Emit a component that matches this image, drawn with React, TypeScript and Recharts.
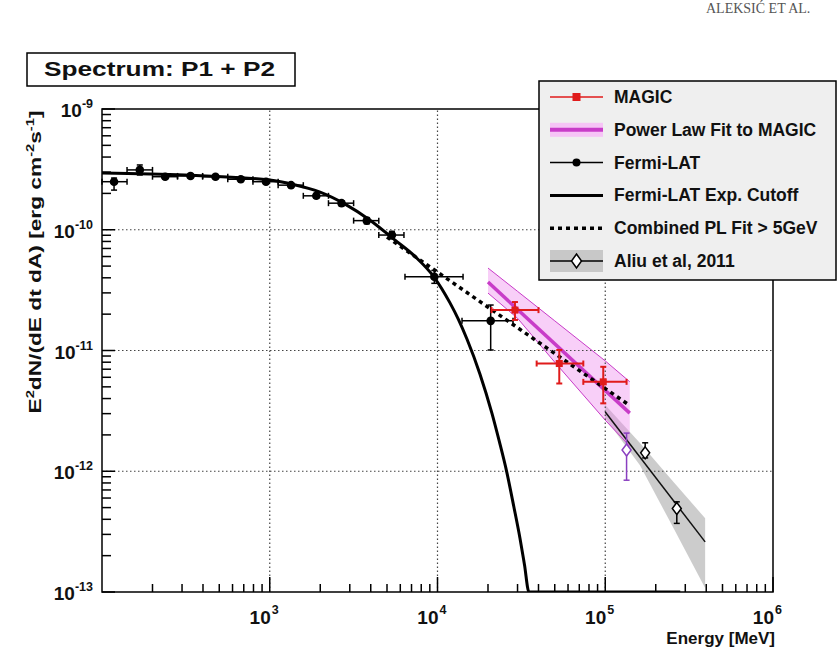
import React from 'react';
import {
  ComposedChart,
  XAxis,
  YAxis,
  Line,
  Area,
  Scatter,
  ErrorBar,
  ReferenceLine,
  ReferenceArea,
} from 'recharts';

const FONT = '"Liberation Sans", Arial, Helvetica, sans-serif';
const MAGENTA = '#c83cc8';
const RED = '#e01b1b';

// ---------- Fermi-LAT spectral points (MeV, erg cm^-2 s^-1) ----------
const fermiEnergy = [118, 168, 238, 337, 475, 672, 950, 1340, 1895, 2680, 3790, 5350, 9570, 20750];
const fermiEnergyLow = [100, 141, 200, 282, 398, 562, 794, 1122, 1585, 2239, 3162, 4467, 6400, 14000];
const fermiEnergyHigh = [141, 200, 282, 398, 562, 794, 1122, 1585, 2239, 3162, 4467, 6310, 14200, 28200];
const fermiFlux = [2.5e-10, 3.13e-10, 2.75e-10, 2.79e-10, 2.75e-10, 2.62e-10, 2.5e-10, 2.34e-10, 1.91e-10, 1.66e-10, 1.19e-10, 9.04e-11, 4.08e-11, 1.76e-11];
const fermiFluxLow = [2.13e-10, 2.84e-10, 2.64e-10, 2.69e-10, 2.66e-10, 2.53e-10, 2.42e-10, 2.26e-10, 1.83e-10, 1.58e-10, 1.12e-10, 8.4e-11, 3.6e-11, 1.01e-11];
const fermiFluxHigh = [2.68e-10, 3.44e-10, 2.86e-10, 2.89e-10, 2.84e-10, 2.71e-10, 2.58e-10, 2.42e-10, 1.99e-10, 1.74e-10, 1.26e-10, 9.7e-11, 4.6e-11, 2.38e-11];

// ---------- Fermi-LAT exponential cutoff model ----------
const cutoffEnergy = [100, 312, 1000, 1400, 1995, 2812, 3963, 5585, 7350, 9530, 11870, 13300, 15000, 17900, 21100, 23300, 25900, 28500, 31000, 33000, 35100, 280000];
const cutoffFlux = [2.95e-10, 2.84e-10, 2.58e-10, 2.36e-10, 2.05e-10, 1.63e-10, 1.2e-10, 8.2e-11, 6.0e-11, 4.06e-11, 2.48e-11, 1.82e-11, 1.24e-11, 6.4e-12, 3.03e-12, 1.79e-12, 9.8e-13, 5.1e-13, 2.8e-13, 1.68e-13, 1.0e-13, 1.0e-13];

// ---------- Combined power law above 5 GeV ----------
const combinedEnergy = [5000, 140000];
const combinedFlux = [8.7e-11, 3.5e-12];

// ---------- MAGIC points ----------
const magicEnergy = [28960, 53200, 97300];
const magicEnergyLow = [21000, 39000, 74000];
const magicEnergyHigh = [40000, 74000, 134000];
const magicFlux = [2.16e-11, 7.8e-12, 5.5e-12];
const magicFluxLow = [1.79e-11, 5.33e-12, 3.65e-12];
const magicFluxHigh = [2.52e-11, 1.01e-11, 7.33e-12];

// ---------- Power law fit to MAGIC and its error band ----------
const magicFitEnergy = [20000, 140000];
const magicFitFlux = [3.69e-11, 3.03e-12];
const magicBandEnergy = [20000, 30000, 50000, 100000, 140000];
const magicBandLow = [2.99e-11, 1.85e-11, 8.0e-12, 2.65e-12, 1.61e-12];
const magicBandHigh = [4.82e-11, 3.09e-11, 1.76e-11, 8.2e-12, 5.51e-12];

// ---------- Aliu et al. 2011 ----------
const aliuEnergy = [134000, 173000, 267000];
const aliuFlux = [1.5e-12, 1.42e-12, 4.92e-13];
const aliuFluxLow = [8.43e-13, 1.29e-12, 3.7e-13];
const aliuFluxHigh = [2.07e-12, 1.72e-12, 5.58e-13];
const aliuFitEnergy = [100000, 394000];
const aliuFitFlux = [3.1e-12, 2.6e-13];
const aliuBandEnergy = [100000, 161000, 250000, 394000];
const aliuBandLow = [2.75e-12, 1.12e-12, 3.57e-13, 1.08e-13];
const aliuBandHigh = [3.53e-12, 1.71e-12, 8.43e-13, 4.08e-13];

// ---------- Axes ----------
const xDecades = [1e2, 1e3, 1e4, 1e5];
const yDecades = [1e-13, 1e-12, 1e-11, 1e-10];
const minorSteps = [2, 3, 4, 5, 6, 7, 8, 9];
const xMajorTicks = [1e3, 1e4, 1e5, 1e6];
const xTickExponents = ['3', '4', '5', '6'];
const yMajorTicks = [1e-13, 1e-12, 1e-11, 1e-10, 1e-9];
const yTickExponents = ['-13', '-12', '-11', '-10', '-9'];
const xGrid = [1e3, 1e4, 1e5];
const yGrid = [1e-10, 1e-11, 1e-12];

const xMinorTicks = xDecades.flatMap((d) => minorSteps.map((m) => m * d));
const yMinorTicks = yDecades.flatMap((d) => minorSteps.map((m) => m * d));
const xTicks = [...xMinorTicks, ...xMajorTicks].sort((a, b) => a - b);
const yTicks = [...yMinorTicks, ...yMajorTicks].sort((a, b) => a - b);

const legendLabels = [
  'MAGIC',
  'Power Law Fit to MAGIC',
  'Fermi-LAT',
  'Fermi-LAT Exp. Cutoff',
  'Combined PL Fit > 5GeV',
  'Aliu et al, 2011',
];

// ---------- Tables ----------
const pointRows = (E: number[], F: number[], fLo: number[], fHi: number[], eLo?: number[], eHi?: number[]) =>
  E.map((e, i) => ({
    e,
    f: F[i],
    ey: [F[i] - fLo[i], fHi[i] - F[i]],
    ex: eLo && eHi ? [e - eLo[i], eHi[i] - e] : [0, 0],
  }));
const curveRows = (E: number[], F: number[]) => E.map((e, i) => ({ e, f: F[i] }));
const bandRows = (E: number[], lo: number[], hi: number[]) => E.map((e, i) => ({ e, band: [lo[i], hi[i]] }));

const fermiRows = pointRows(fermiEnergy, fermiFlux, fermiFluxLow, fermiFluxHigh, fermiEnergyLow, fermiEnergyHigh);
const magicRows = pointRows(magicEnergy, magicFlux, magicFluxLow, magicFluxHigh, magicEnergyLow, magicEnergyHigh);
const aliuRows = pointRows(aliuEnergy, aliuFlux, aliuFluxLow, aliuFluxHigh);
const cutoffRows = curveRows(cutoffEnergy, cutoffFlux);
const combinedRows = curveRows(combinedEnergy, combinedFlux);
const magicFitRows = curveRows(magicFitEnergy, magicFitFlux);
const aliuFitRows = curveRows(aliuFitEnergy, aliuFitFlux);
const magicBandRows = bandRows(magicBandEnergy, magicBandLow, magicBandHigh);
const aliuBandRows = bandRows(aliuBandEnergy, aliuBandLow, aliuBandHigh);

// ---------- Tick renderers (ticks point into the frame) ----------
const XTick = (props: any) => {
  const { x, y, payload } = props;
  const idx = xMajorTicks.indexOf(payload.value);
  const major = idx >= 0;
  return (
    <g>
      <line x1={x} x2={x} y1={y} y2={y - (major ? 15 : 8)} stroke="#000" strokeWidth={1.5} />
      {major && (
        <g fontFamily={FONT} fontWeight="bold" fill="#111">
          <text x={x + 1} y={y + 32} fontSize={19} textAnchor="end">10</text>
          <text x={x + 2} y={y + 22} fontSize={12.5} textAnchor="start">{xTickExponents[idx]}</text>
        </g>
      )}
    </g>
  );
};

const YTick = (props: any) => {
  const { x, y, payload } = props;
  const idx = yMajorTicks.indexOf(payload.value);
  const major = idx >= 0;
  return (
    <g>
      <line x1={x} x2={x + (major ? 13 : 9)} y1={y} y2={y} stroke="#000" strokeWidth={1.5} />
      {major && (
        <text x={x - 9} y={y + 8} fontFamily={FONT} fontWeight="bold" fill="#111" textAnchor="end" fontSize={19}>
          10
          <tspan dy={-9} fontSize={12.5}>{yTickExponents[idx]}</tspan>
        </text>
      )}
    </g>
  );
};

const Dot = (p: any) => <circle cx={p.cx} cy={p.cy} r={4.3} fill="#000" />;
const Square = (p: any) => <rect x={p.cx - 3.5} y={p.cy - 3.5} width={7} height={7} fill={RED} />;
const Diamond = (color: string) => (p: any) => (
  <polygon
    points={`${p.cx},${p.cy - 6} ${p.cx + 4.5},${p.cy} ${p.cx},${p.cy + 6} ${p.cx - 4.5},${p.cy}`}
    fill="#fff"
    stroke={color}
    strokeWidth={1.5}
  />
);

// ---------- Legend ----------
const LegendSymbol = ({ i, y }: { i: number; y: number }) => {
  const x1 = 550;
  const x2 = 603;
  const cx = (x1 + x2) / 2;
  switch (i) {
    case 0:
      return (
        <g>
          <line x1={x1} x2={x2} y1={y} y2={y} stroke={RED} strokeWidth={1.5} />
          <rect x={cx - 4} y={y - 4} width={8} height={8} fill={RED} />
        </g>
      );
    case 1:
      return (
        <g>
          <rect x={x1} y={y - 7} width={x2 - x1} height={14} fill="#f6c4f6" />
          <line x1={x1} x2={x2} y1={y} y2={y} stroke={MAGENTA} strokeWidth={4} />
        </g>
      );
    case 2:
      return (
        <g>
          <line x1={x1} x2={x2} y1={y} y2={y} stroke="#000" strokeWidth={1.5} />
          <circle cx={cx} cy={y} r={4} fill="#000" />
        </g>
      );
    case 3:
      return <line x1={x1} x2={x2} y1={y} y2={y} stroke="#000" strokeWidth={3} />;
    case 4:
      return <line x1={x1} x2={x2} y1={y} y2={y} stroke="#000" strokeWidth={3.5} strokeDasharray="4 4" />;
    default:
      return (
        <g>
          <rect x={x1} y={y - 11} width={x2 - x1} height={22} fill="#c8c8c8" />
          <line x1={x1} x2={x2} y1={y} y2={y} stroke="#000" strokeWidth={1.5} />
          <polygon points={`${cx},${y - 7} ${cx + 5},${y} ${cx},${y + 7} ${cx - 5},${y}`} fill="#fff" stroke="#000" strokeWidth={1.5} />
        </g>
      );
  }
};

const Decorations = () => (
  <svg
    width={838}
    height={654}
    style={{ position: 'absolute', left: 0, top: 0, pointerEvents: 'none' }}
    fontFamily={FONT}
    fontWeight="bold"
  >
    {/* running header */}
    <text x={706} y={13} fontFamily='"Liberation Serif", "DejaVu Serif", serif' fontWeight="normal" fontSize={14} fill="#555">
      ALEKSIĆ ET AL.
    </text>

    {/* title box */}
    <rect x={27} y={53} width={268} height={33} fill="#fff" stroke="#000" strokeWidth={1.5} />
    <text x={44} y={76} fontSize={21} fill="#111" textLength={231} lengthAdjust="spacingAndGlyphs">
      Spectrum: P1 + P2
    </text>

    {/* legend */}
    <rect x={539} y={81} width={297} height={199} fill="#efefef" stroke="#000" strokeWidth={1.5} />
    {legendLabels.map((label, i) => {
      const y = 97 + i * 32.8;
      return (
        <g key={label}>
          <LegendSymbol i={i} y={y} />
          <text x={614} y={y + 6} fontSize={17.5} fill="#111">
            {label}
          </text>
        </g>
      );
    })}

    {/* axis titles */}
    <text x={775} y={644} fontSize={17} fill="#111" textAnchor="end">
      Energy [MeV]
    </text>
    <text
      transform="translate(41,262) rotate(-90)"
      x={0}
      y={0}
      fontSize={17}
      fill="#111"
      textAnchor="middle"
      textLength={303}
      lengthAdjust="spacingAndGlyphs"
    >
      E<tspan dy={-7} fontSize={11}>2</tspan>
      <tspan dy={7}>dN/(dE dt dA) [erg cm</tspan>
      <tspan dy={-7} fontSize={11}>-2</tspan>
      <tspan dy={7}>s</tspan>
      <tspan dy={-7} fontSize={11}>-1</tspan>
      <tspan dy={7}>]</tspan>
    </text>
  </svg>
);

export default function App() {
  return (
    <div style={{ position: 'absolute', left: 0, top: 0, width: 838, height: 654, background: '#fff' }}>
      <ComposedChart width={838} height={654} margin={{ top: 109, right: 65, bottom: 0, left: 0 }}>
        <XAxis
          dataKey="e"
          type="number"
          scale="log"
          domain={[100, 1e6]}
          allowDataOverflow
          ticks={xTicks}
          interval={0}
          tick={XTick}
          tickLine={false}
          tickSize={0}
          tickMargin={0}
          axisLine={false}
          height={62}
        />
        <YAxis
          type="number"
          scale="log"
          domain={[1e-13, 1e-9]}
          allowDataOverflow
          ticks={yTicks}
          interval={0}
          tick={YTick}
          tickLine={false}
          tickSize={0}
          tickMargin={0}
          axisLine={false}
          width={102}
        />

        {xGrid.map((v) => (
          <ReferenceLine key={`gx${v}`} x={v} stroke="#444" strokeWidth={1.2} strokeDasharray="1.5 2.5" />
        ))}
        {yGrid.map((v) => (
          <ReferenceLine key={`gy${v}`} y={v} stroke="#444" strokeWidth={1.2} strokeDasharray="1.5 2.5" />
        ))}

        <Area
          data={aliuBandRows}
          dataKey="band"
          type="linear"
          fill="#9a9a9a"
          fillOpacity={0.5}
          stroke="none"
          isAnimationActive={false}
        />
        <Area
          data={magicBandRows}
          dataKey="band"
          type="linear"
          fill="#ee88ee"
          fillOpacity={0.4}
          stroke={MAGENTA}
          strokeWidth={1}
          isAnimationActive={false}
        />

        <Line data={cutoffRows} dataKey="f" type="monotone" stroke="#000" strokeWidth={3} dot={false} isAnimationActive={false} />
        <Line data={aliuFitRows} dataKey="f" type="linear" stroke="#111" strokeWidth={1.5} dot={false} isAnimationActive={false} />
        <Line data={magicFitRows} dataKey="f" type="linear" stroke={MAGENTA} strokeWidth={3.5} dot={false} isAnimationActive={false} />
        <Line
          data={combinedRows}
          dataKey="f"
          type="linear"
          stroke="#000"
          strokeWidth={3.5}
          strokeDasharray="4 4"
          dot={false}
          isAnimationActive={false}
        />

        <Scatter data={fermiRows} dataKey="f" shape={Dot} isAnimationActive={false}>
          <ErrorBar dataKey="ex" direction="x" width={3} stroke="#000" strokeWidth={1.5} isAnimationActive={false} />
          <ErrorBar dataKey="ey" direction="y" width={3} stroke="#000" strokeWidth={1.5} isAnimationActive={false} />
        </Scatter>
        <Scatter data={aliuRows.slice(0, 1)} dataKey="f" shape={Diamond('#8a3fc0')} isAnimationActive={false}>
          <ErrorBar dataKey="ey" direction="y" width={3} stroke="#8a3fc0" strokeWidth={1.5} isAnimationActive={false} />
        </Scatter>
        <Scatter data={aliuRows.slice(1)} dataKey="f" shape={Diamond('#000')} isAnimationActive={false}>
          <ErrorBar dataKey="ey" direction="y" width={3} stroke="#000" strokeWidth={1.5} isAnimationActive={false} />
        </Scatter>
        <Scatter data={magicRows} dataKey="f" shape={Square} isAnimationActive={false}>
          <ErrorBar dataKey="ex" direction="x" width={3} stroke={RED} strokeWidth={2} isAnimationActive={false} />
          <ErrorBar dataKey="ey" direction="y" width={3} stroke={RED} strokeWidth={2} isAnimationActive={false} />
        </Scatter>

        <ReferenceArea x1={100} x2={1e6} y1={1e-13} y2={1e-9} fill="none" stroke="#000" strokeWidth={1.5} />
      </ComposedChart>
      <Decorations />
    </div>
  );
}
